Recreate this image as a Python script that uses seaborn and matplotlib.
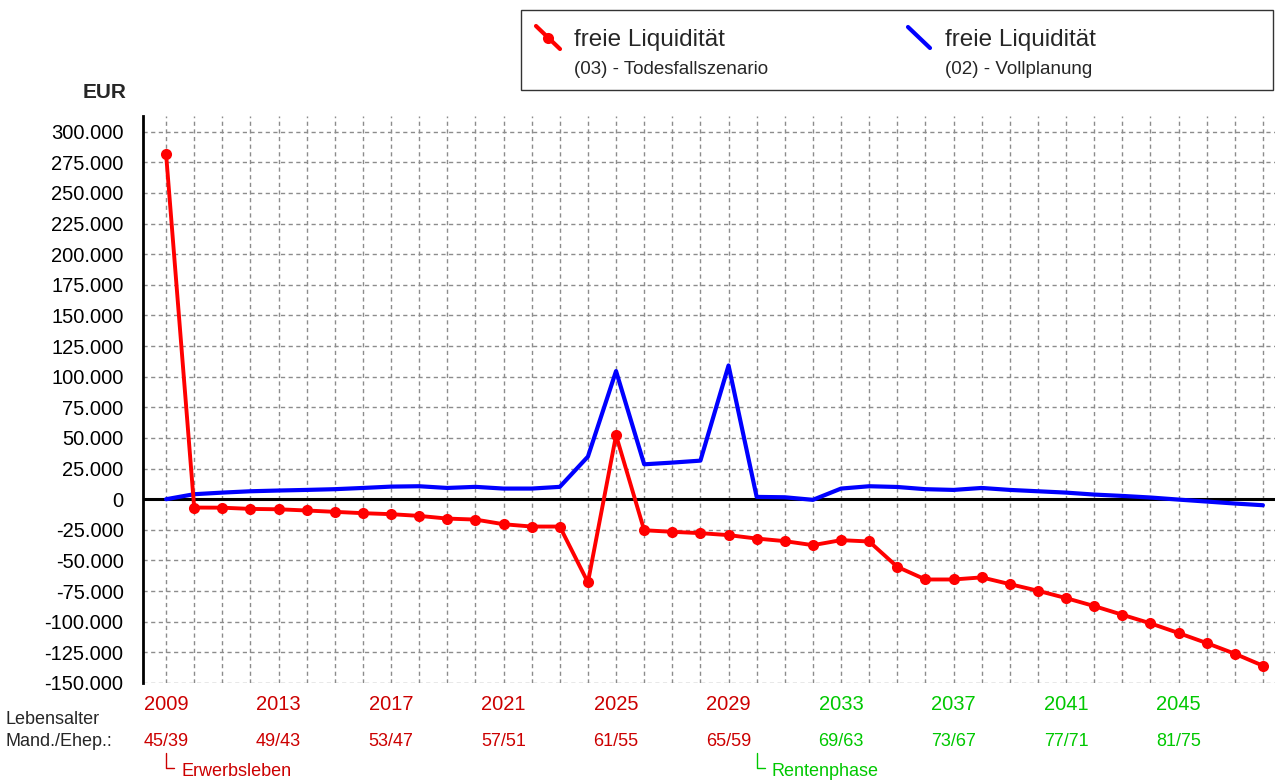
import numpy as np
import pandas as pd
import matplotlib
matplotlib.use("Agg")
import matplotlib.pyplot as plt
import matplotlib.transforms as mtransforms
from matplotlib.lines import Line2D
from matplotlib.patches import Rectangle
import seaborn as sns

# ---------------- data ----------------
years = list(range(2009, 2049))
todesfall = [282000, -6800, -6900, -7900, -8200, -9200, -10300, -11400, -12200, -13600,
             -15800, -16600, -20400, -22300, -22300, -67900, 52200, -25300, -26600, -27700,
             -29300, -32100, -34200, -37500, -33400, -34500, -55200, -65500, -65500, -63800,
             -69300, -74700, -80700, -87200, -94300, -101300, -109200, -117400, -126100, -135900]
vollplanung = [0, 4100, 5400, 6500, 7100, 7600, 8200, 9200, 10300, 10600,
               9200, 10100, 8700, 8700, 10100, 34800, 104600, 28500, 29900, 31500,
               109200, 1900, 1600, -500, 8700, 10600, 10000, 8200, 7600, 9200,
               7600, 6500, 5400, 3800, 2700, 1400, -300, -1900, -3500, -4900]
label_years = [2009, 2013, 2017, 2021, 2025, 2029, 2033, 2037, 2041, 2045]
age_labels = ["45/39", "49/43", "53/47", "57/51", "61/55", "65/59", "69/63", "73/67", "77/71", "81/75"]
y_ticks = list(range(-150000, 300001, 25000))
phase_names = ["Erwerbsleben", "Rentenphase"]
phase_starts = [2009, 2030]
series_names = ["freie Liquidität", "freie Liquidität"]
series_sub = ["(03) - Todesfallszenario", "(02) - Vollplanung"]

RED = "#FF0000"
BLUE = "#0000FF"
TXT_RED = "#CC0000"
TXT_GREEN = "#00C800"

sns.set_theme(style="white")
plt.rcParams["font.family"] = ["Liberation Sans", "DejaVu Sans"]

W, H = 1275, 781
fig = plt.figure(figsize=(W / 100, H / 100), dpi=100)
ax_l, ax_r, ax_t, ax_b = 143, 1275, 116, 683
ax = fig.add_axes([ax_l / W, 1 - ax_b / H, (ax_r - ax_l) / W, (ax_b - ax_t) / H])

df_red = pd.DataFrame({"Jahr": years, "Wert": todesfall})
df_blue = pd.DataFrame({"Jahr": years, "Wert": vollplanung})

# grid
ax.set_xticks(years)
ax.set_yticks(y_ticks)
ax.grid(True, color="#8c8c8c", linestyle=(0, (3, 2.5)), linewidth=1.0)
ax.set_axisbelow(True)

sns.lineplot(data=df_blue, x="Jahr", y="Wert", ax=ax, color=BLUE, linewidth=3.0, zorder=4)
sns.lineplot(data=df_red, x="Jahr", y="Wert", ax=ax, color=RED, linewidth=2.8,
             marker="o", markersize=8, markeredgewidth=0, markeredgecolor=RED, zorder=5)

ax.axhline(0, color="black", linewidth=2.2, zorder=3)

ax.set_xlim(2008.18, 2048.43)
ax.set_ylim(-150000, 312800)
ax.set_xlabel("")
ax.set_ylabel("")

for s in ["top", "right", "bottom"]:
    ax.spines[s].set_visible(False)
ax.spines["left"].set_color("black")
ax.spines["left"].set_linewidth(2.0)

ax.set_xticklabels([])
ax.set_yticklabels([("0" if v == 0 else f"{v:,.0f}".replace(",", ".")) for v in y_ticks])
ax.tick_params(axis="y", labelsize=14.5, pad=14, length=0, colors="black")
ax.tick_params(axis="x", length=0)

# EUR label
fig.text(127 / W, 1 - 93 / H, "EUR", ha="right", va="center", fontsize=15, fontweight="bold")

# bottom labels
btr = mtransforms.blended_transform_factory(ax.transData, fig.transFigure)
pension_start = phase_starts[1]
for yr, age in zip(label_years, age_labels):
    col = TXT_RED if yr < pension_start else TXT_GREEN
    ax.text(yr, 1 - 704 / H, str(yr), transform=btr, ha="center", va="center",
            fontsize=14.5, color=col, clip_on=False)
    ax.text(yr, 1 - 742 / H, age, transform=btr, ha="center", va="center",
            fontsize=13, color=col, clip_on=False)

fig.text(6 / W, 1 - 719 / H, "Lebensalter", ha="left", va="center", fontsize=13)
fig.text(6 / W, 1 - 742 / H, "Mand./Ehep.:", ha="left", va="center", fontsize=13)

# phase markers
px_per_year = (ax_r - ax_l) / (2048.43 - 2008.18)
for name, start, col in zip(phase_names, phase_starts, [TXT_RED, TXT_GREEN]):
    dx = 8 / px_per_year
    ax.add_line(Line2D([start, start, start + dx], [1 - 753 / H, 1 - 768 / H, 1 - 768 / H],
                       transform=btr, color=col, linewidth=1.0, clip_on=False))
    ax.text(start + 15 / px_per_year, 1 - 771 / H, name, transform=btr, ha="left", va="center",
            fontsize=13, color=col, clip_on=False)

# legend box
fig.patches.append(Rectangle((521 / W, 1 - 90 / H), (1273 - 521) / W, 80 / H,
                             transform=fig.transFigure, facecolor="white",
                             edgecolor="#333333", linewidth=1.0))

def fx(p):
    return p / W

def fy(p):
    return 1 - p / H

# red icon
fig.lines.append(Line2D([fx(536), fx(560)], [fy(26), fy(49)], transform=fig.transFigure,
                        color=RED, linewidth=3))
fig.lines.append(Line2D([fx(548)], [fy(37.5)], transform=fig.transFigure, color=RED,
                        marker="o", markersize=8, markeredgewidth=0))
fig.text(fx(574), fy(40), series_names[0], ha="left", va="center", fontsize=17.5)
fig.text(fx(574), fy(69), series_sub[0], ha="left", va="center", fontsize=13.5)

# blue icon
fig.lines.append(Line2D([fx(908), fx(930)], [fy(27), fy(48)], transform=fig.transFigure,
                        color=BLUE, linewidth=3))
fig.text(fx(945), fy(40), series_names[1], ha="left", va="center", fontsize=17.5)
fig.text(fx(945), fy(69), series_sub[1], ha="left", va="center", fontsize=13.5)

fig.savefig("out.png", dpi=100, facecolor="white")
